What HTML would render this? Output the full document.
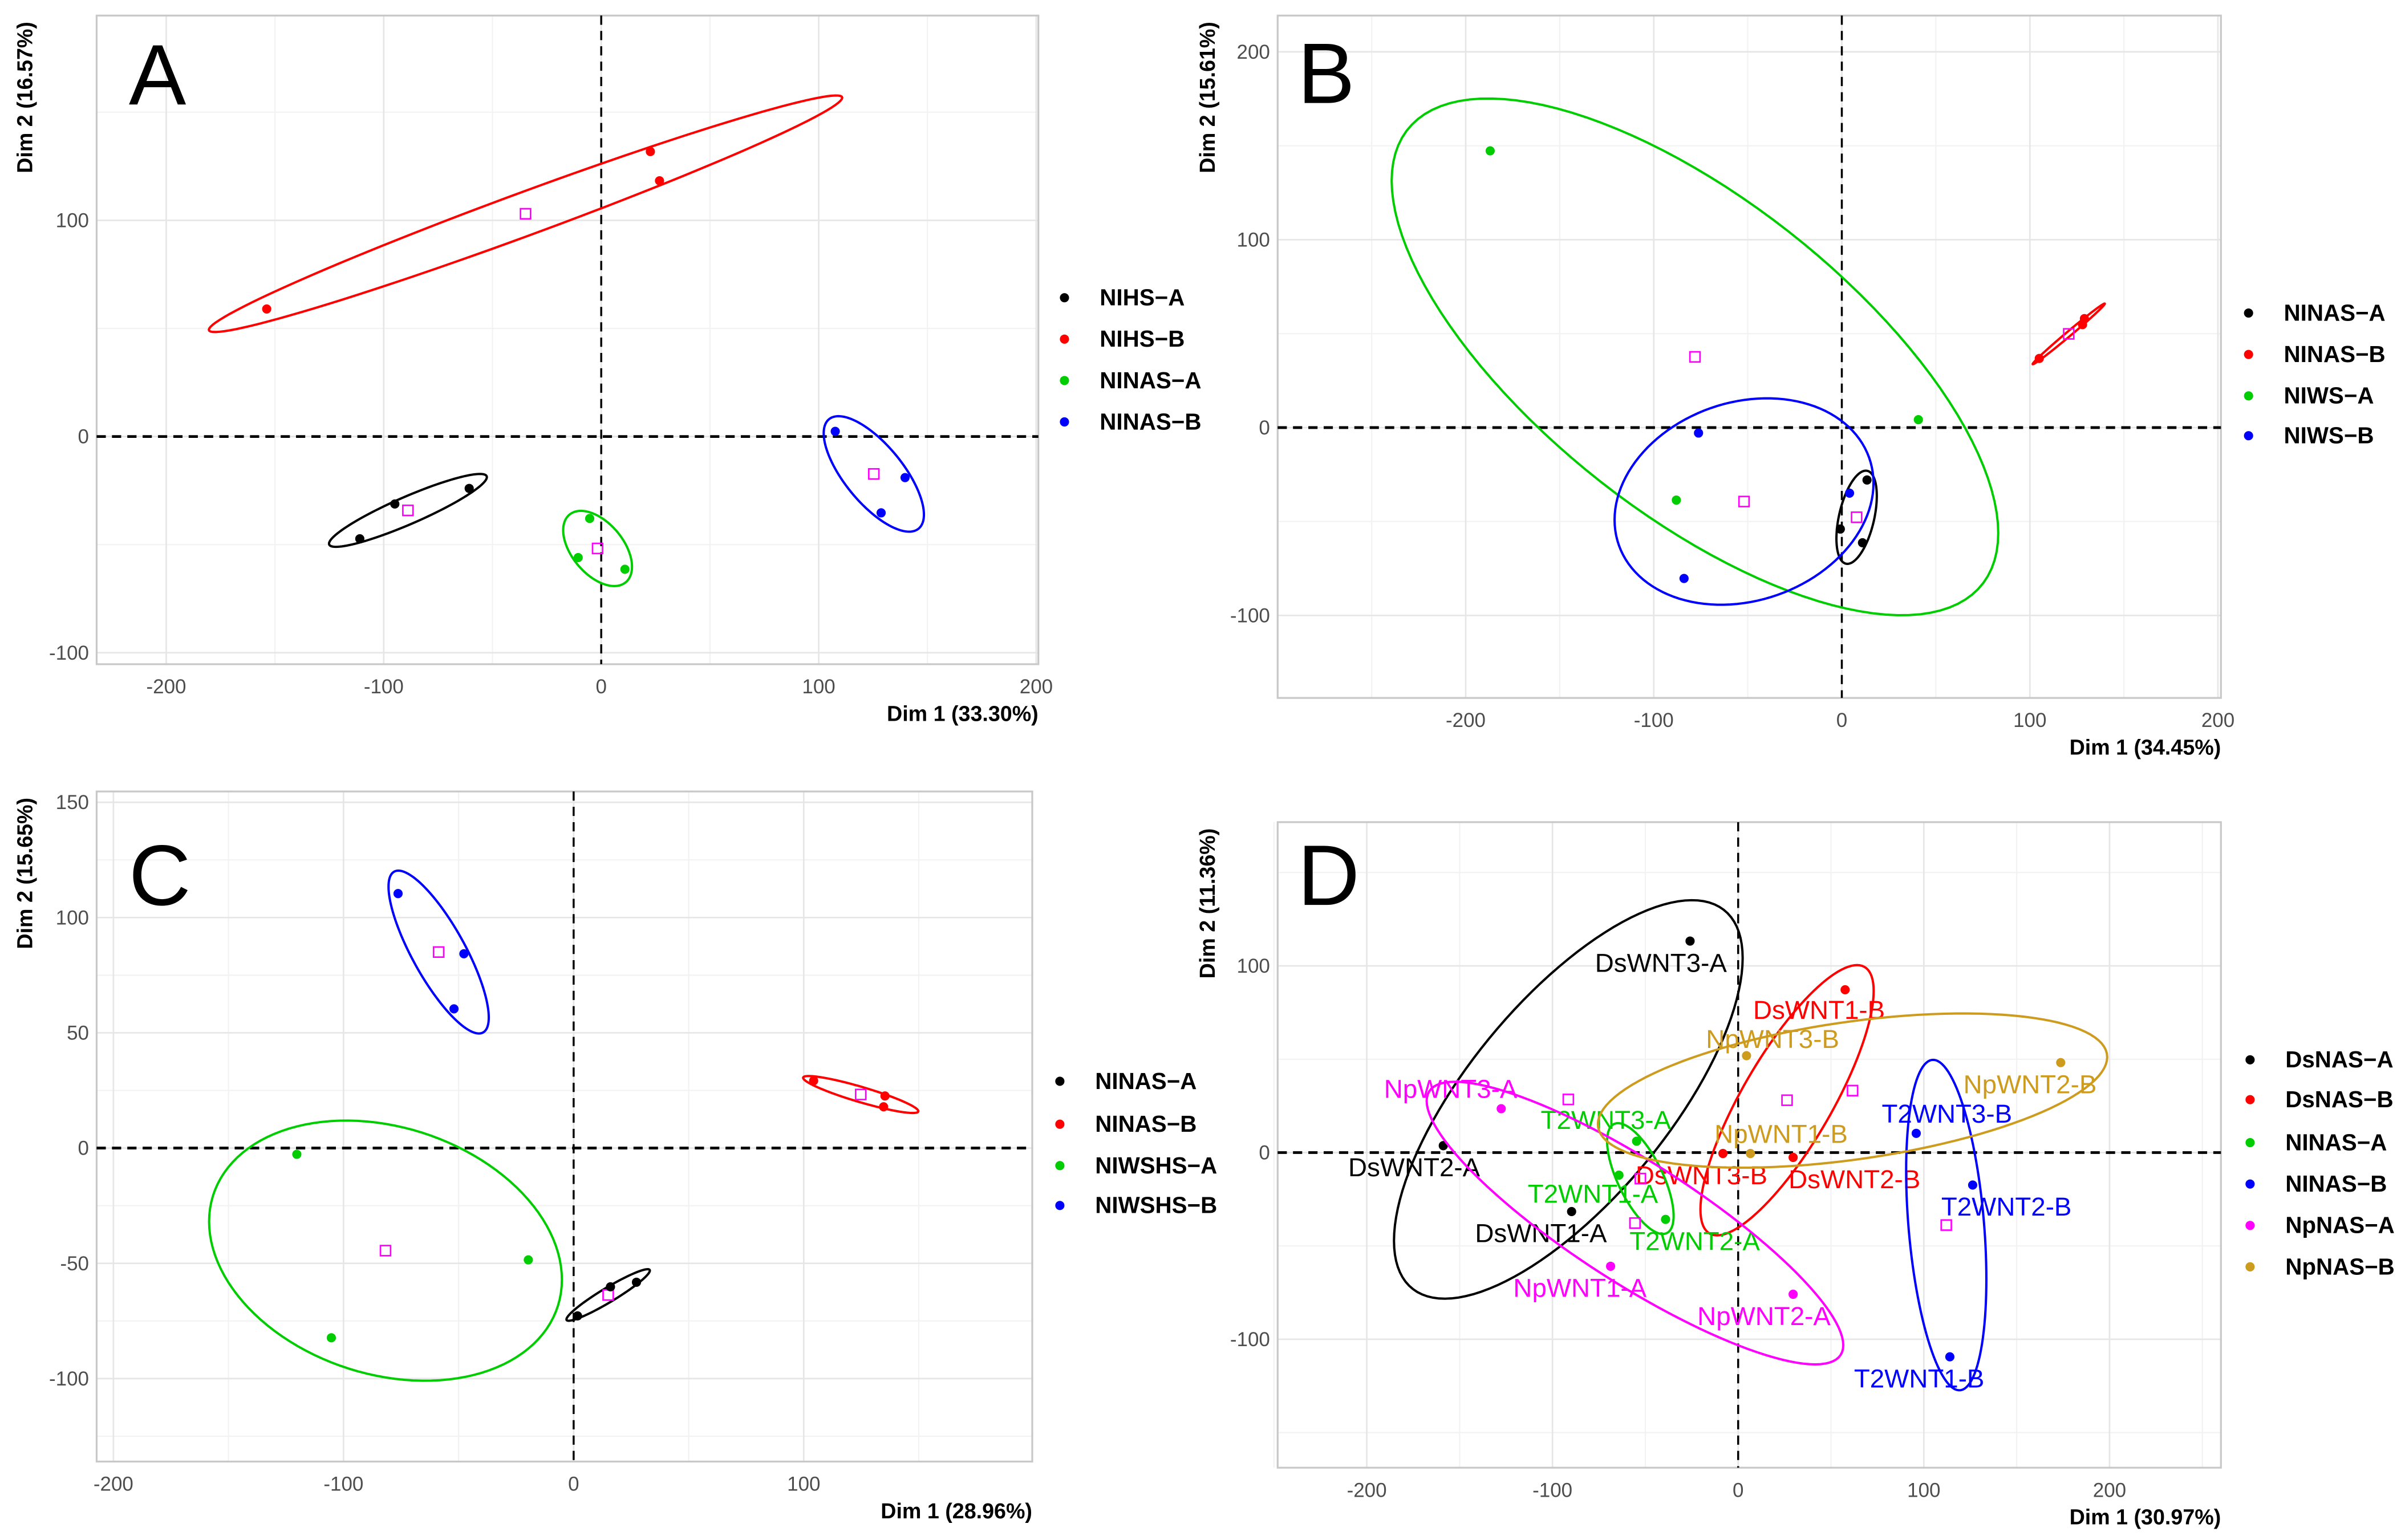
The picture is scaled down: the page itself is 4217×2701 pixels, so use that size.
<!DOCTYPE html>
<html><head><meta charset="utf-8"><style>
html,body{margin:0;padding:0;background:#fff;}
svg{display:block;font-family:"Liberation Sans",sans-serif;}
</style></head><body>
<svg id="s" xmlns="http://www.w3.org/2000/svg" viewBox="0 0 1568 1004" width="4217" height="2701">
<rect x="0" y="0" width="1568" height="1004" fill="#fff"/>
</svg>
<script>
// ---------- Panel A data ----------
const A_groups = ['NIHS-A','NIHS-B','NINAS-A','NINAS-B'];
const A_x = [[-94.9,-111,-60.7],[-153.8,22.6,26.8],[-5.3,-10.6,10.9],[107.6,139.7,128.7]];
const A_y = [[-31.2,-47.3,-24],[59,131.8,118.3],[-37.9,-56,-61.4],[2.4,-19,-35.3]];
const A_xticks = [-200,-100,0,100,200];
const A_yticks = [-100,0,100];
// ---------- Panel B data ----------
const B_groups = ['NINAS-A','NINAS-B','NIWS-A','NIWS-B'];
const B_x = [[13.4,-0.8,11],[105,128,129],[-187,40.7,-88],[-76.2,-83.9,4.1]];
const B_y = [[-27.9,-54,-61.3],[36.8,54.8,58],[147.3,4.2,-38.6],[-2.9,-80.3,-34.9]];
const B_xticks = [-200,-100,0,100,200];
const B_yticks = [-100,0,100,200];
// ---------- Panel C data ----------
const C_groups = ['NINAS-A','NINAS-B','NIWSHS-A','NIWSHS-B'];
const C_x = [[1.7,16,27.3],[104.3,135.3,134.7],[-120.3,-19.7,-105.3],[-76.3,-47.7,-52]];
const C_y = [[-72.8,-60.2,-58.2],[29.2,22.6,17.9],[-2.7,-48.5,-82.3],[110.4,84.3,60.4]];
const C_xticks = [-200,-100,0,100];
const C_yticks = [-100,-50,0,50,100,150];
// ---------- Panel D data ----------
const D_groups = ['DsNAS-A','DsNAS-B','NINAS-A','NINAS-B','NpNAS-A','NpNAS-B'];
const D_x = [[-25.9,-158.8,-89.7],[57.6,-8.2,29.6],[-54.7,-64.2,-39.1],[95.9,126.3,114],[-127.6,-68.7,29.6],[4.5,6.6,173.7]];
const D_y = [[113.3,3.7,-31.6],[87.2,-0.5,-2.6],[6.1,-12.1,-35.8],[10.3,-17.4,-109.4],[23.5,-60.9,-75.9],[51.9,-0.5,48.2]];
const D_labels = [['DsWNT3-A','DsWNT2-A','DsWNT1-A'],['DsWNT1-B','DsWNT3-B','DsWNT2-B'],['T2WNT3-A','T2WNT1-A','T2WNT2-A'],['T2WNT3-B','T2WNT2-B','T2WNT1-B'],['NpWNT3-A','NpWNT1-A','NpWNT2-A'],['NpWNT3-B','NpWNT1-B','NpWNT2-B']];
const D_xticks = [-200,-100,0,100,200];
const D_yticks = [-100,0,100];
// label offsets (display px) - style, not data
const D_labelOffsets = [[[-19,14],[-19,14],[-20,14]],[[-17,13],[-14,14],[40,14]],[[-20,-14],[-17,12],[19,14]],[[20,-13],[22,14],[-20,14]],[[-33,-13],[-20,14],[-19,14]],[[17,-11],[20,-13],[-20,14]]];

const COLORS4 = ['#000000','#ff0000','#00cd00','#0000ff'];
const COLORS6 = ['#000000','#ff0000','#00cd00','#0000ff','#ff00ff','#cd9b1d'];
const NS = 'http://www.w3.org/2000/svg';
const svg = document.getElementById('s');
function mk(tag, attrs, parent){
  const e = document.createElementNS(NS, tag);
  for (const k in attrs) e.setAttribute(k, attrs[k]);
  (parent||svg).appendChild(e);
  return e;
}
const K = 1.73;

function panel(cfg){
  const [L,T,R,Bt] = cfg.frame;
  const g = mk('g',{});
  
  
  const sx = v => L + (v - cfg.xlim[0]) / (cfg.xlim[1]-cfg.xlim[0]) * (R-L);
  const sy = v => Bt - (v - cfg.ylim[0]) / (cfg.ylim[1]-cfg.ylim[0]) * (Bt-T);
  // minor grid
  cfg.xminor.forEach(v=>{ const l=mk('line',{x1:sx(v),x2:sx(v),y1:T,y2:Bt,stroke:'#f2f2f2','stroke-width':0.8},g);
      });
  cfg.yminor.forEach(v=>{ const l=mk('line',{x1:L,x2:R,y1:sy(v),y2:sy(v),stroke:'#f2f2f2','stroke-width':0.8},g);
      });
  cfg.xticks.forEach(v=>{
    const l=mk('line',{x1:sx(v),x2:sx(v),y1:T,y2:Bt,stroke:'#e6e6e6','stroke-width':1},g);
     
    const t=mk('text',{x:sx(v),y:Bt+19,'text-anchor':'middle','font-size':13,fill:'#4d4d4d'},g);
    t.textContent=v;
     
  });
  cfg.yticks.forEach(v=>{
    const l=mk('line',{x1:L,x2:R,y1:sy(v),y2:sy(v),stroke:'#e6e6e6','stroke-width':1},g);
     
    const t=mk('text',{x:L-5,y:sy(v)+4.5,'text-anchor':'end','font-size':13,fill:'#4d4d4d'},g);
    t.textContent=v;
     
  });
  const fr=mk('rect',{x:L,y:T,width:R-L,height:Bt-T,fill:'none',stroke:'#c8c8c8','stroke-width':1.2},g);
   
  // zero lines
  const zh=mk('line',{x1:L,x2:R,y1:sy(0),y2:sy(0),stroke:'#000','stroke-width':1.8,'stroke-dasharray':'6,4'},g);
   
  const zv=mk('line',{x1:sx(0),x2:sx(0),y1:T,y2:Bt,stroke:'#000','stroke-width':1.3,'stroke-dasharray':'6,4'},g);
   
  // letter
  const lt=mk('text',{x:cfg.letterPos[0],y:cfg.letterPos[1],'font-size':56,fill:'#000'},g);
  lt.textContent=cfg.letter;
   
  // titles
  const xt=mk('text',{x:R,y:Bt+37,'text-anchor':'end','font-size':14,'font-weight':'bold',fill:'#000'},g);
  xt.textContent=cfg.xtitle;
   
  const yt=mk('text',{x:0,y:0,'text-anchor':'end','font-size':14,'font-weight':'bold',fill:'#000',transform:`translate(${cfg.ytitleX},${T+4}) rotate(-90)`},g);
  yt.textContent=cfg.ytitle;
   
  // groups
  const cols = cfg.colors;
  cfg.xs.forEach((xs,gi)=>{
    const ys = cfg.ys[gi]; const n=xs.length;
    const mx = xs.reduce((a,b)=>a+b,0)/n, my = ys.reduce((a,b)=>a+b,0)/n;
    let a=0,b=0,c=0;
    for(let i=0;i<n;i++){ const dx=xs[i]-mx, dy=ys[i]-my; a+=dx*dx; b+=dx*dy; c+=dy*dy; }
    a/=n; b/=n; c/=n;
    const l11=Math.sqrt(a), l21=b/l11, l22=Math.sqrt(Math.max(c-l21*l21,1e-6));
    let d='';
    for(let s=0;s<=120;s++){
      const t=s/120*2*Math.PI, u=Math.cos(t), w=Math.sin(t);
      const px=mx+K*l11*u, py=my+K*(l21*u+l22*w);
      d+=(s?'L':'M')+sx(px).toFixed(2)+','+sy(py).toFixed(2);
    }
    const el=mk('path',{d:d+'Z',fill:'none',stroke:cols[gi],'stroke-width':1.5},g);
    
    
    const sq=mk('rect',{x:sx(mx)-3.3,y:sy(my)-3.3,width:6.6,height:6.6,fill:'none',stroke:'#ff00ff','stroke-width':1},g);
    
    
    for(let i=0;i<n;i++){
      const p=mk('circle',{cx:sx(xs[i]),cy:sy(ys[i]),r:3,fill:cols[gi]},g);
      
      
      if(cfg.labels){
        const off=cfg.offsets[gi][i];
        const tx=mk('text',{x:sx(xs[i])+off[0],y:sy(ys[i])+off[1]+6,'text-anchor':'middle','font-size':17,fill:cols[gi]},g);
        tx.textContent=cfg.labels[gi][i];
        
        
      }
    }
  });
  // legend
  cfg.groups.forEach((name,gi)=>{
    const y=cfg.legY[gi];
    const dot=mk('circle',{cx:cfg.legX,cy:y,r:3,fill:cols[gi]},g);
    
    
    const t=mk('text',{x:cfg.legX+23,y:y+5,'font-size':15,'font-weight':'bold',fill:'#000'},g);
    t.textContent=name.replace('-','\u2212');
    
    
  });
}

panel({letter:'A',frame:[63,10,677,433],xlim:[-232,201],ylim:[-105.3,194.7],xticks:A_xticks,yticks:A_yticks,
  xminor:[-150,-50,50,150],yminor:[-50,50,150],letterPos:[84,68],xtitle:'Dim 1 (33.30%)',ytitle:'Dim 2 (16.57%)',ytitleX:21,
  groups:A_groups,xs:A_x,ys:A_y,colors:COLORS4,legX:694,legY:[194,221,248,275]});
panel({letter:'B',frame:[833,10,1448,455],xlim:[-300,201.6],ylim:[-143.9,219.3],xticks:B_xticks,yticks:B_yticks,
  xminor:[-250,-150,-50,50,150],yminor:[-50,50,150],letterPos:[846,67],xtitle:'Dim 1 (34.45%)',ytitle:'Dim 2 (15.61%)',ytitleX:792,
  groups:B_groups,xs:B_x,ys:B_y,colors:COLORS4,legX:1466,legY:[204,231,258,284]});
panel({letter:'C',frame:[63,516,673,953],xlim:[-207.3,199.3],ylim:[-136,154.7],xticks:C_xticks,yticks:C_yticks,
  xminor:[-150,-50,50,150],yminor:[-125,-75,-25,25,75,125],letterPos:[84,590],xtitle:'Dim 1 (28.96%)',ytitle:'Dim 2 (15.65%)',ytitleX:21,
  groups:C_groups,xs:C_x,ys:C_y,colors:COLORS4,legX:691,legY:[705,733,760,786]});
panel({letter:'D',frame:[833,536,1448,957],xlim:[-248,260],ylim:[-168.8,177],xticks:D_xticks,yticks:D_yticks,
  xminor:[-250,-150,-50,50,150,250],yminor:[-150,-50,50,150],letterPos:[846,590],xtitle:'Dim 1 (30.97%)',ytitle:'Dim 2 (11.36%)',ytitleX:792,
  groups:D_groups,xs:D_x,ys:D_y,colors:COLORS6,legX:1467,legY:[691,717,745,772,799,826],labels:D_labels,offsets:D_labelOffsets});
</script>
</body></html>
